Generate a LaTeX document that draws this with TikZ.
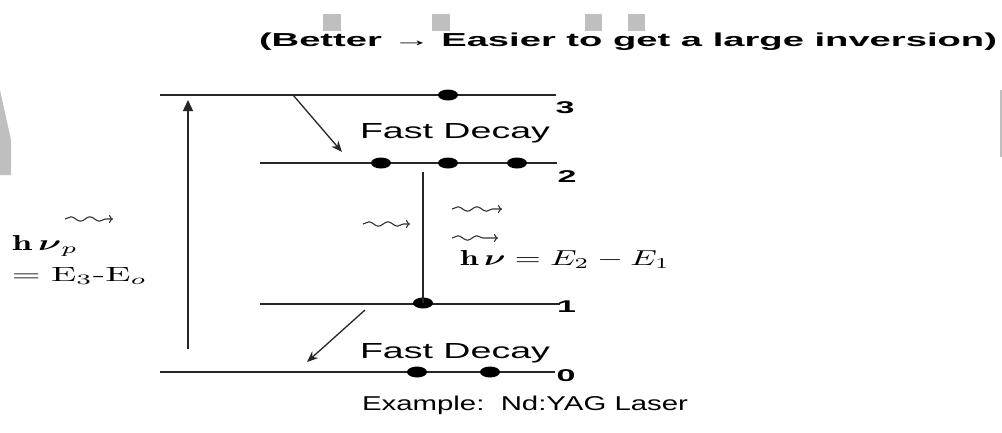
\documentclass[tikz,border=0pt]{standalone}
\usepackage{amsmath}
\usepackage{fontspec}
\newfontfamily\arial{Liberation Sans}
\usetikzlibrary{arrows.meta,decorations.pathmorphing,shapes.geometric}
\tikzset{
  level/.style={draw=black!85, line width=1.7pt},
  electron/.style={ellipse, fill=black, minimum width=20pt, minimum height=11pt, inner sep=0pt},
  decayarrow/.style={draw=black!85, line width=1.3pt, -{Stealth[length=11pt,width=9pt]}},
  wavy/.style={draw=black!80, line width=1.1pt, decorate,
     decoration={snake, amplitude=2.2pt, segment length=19pt, post length=6pt},
     -{To[length=4pt,width=8pt]}},
  txt/.style={anchor=base west, inner sep=0pt, outer sep=0pt},
  artifact/.style={fill=black!25, draw=none}
}
\begin{document}
\begin{tikzpicture}[x=1pt,y=-1pt]
\useasboundingbox (0,0) rectangle (1002,432);
% faint slide artifacts
\fill[artifact] (323,14) rectangle (341,31);
\fill[artifact] (432,14) rectangle (450,31);
\fill[artifact] (585,14) rectangle (602,31);
\fill[artifact] (628,14) rectangle (645,31);
\fill[artifact] (0,90) -- (11,140) -- (11,175) -- (0,175) -- cycle;
\fill[artifact] (999.5,90) rectangle (1002,157);
% title
\node[txt] (title) at (259,46.5) {\resizebox{738pt}{13.6pt}{\arial\bfseries (Better → Easier to get a large inversion)}};
% level end points
\coordinate (l3a) at (160,95);  \coordinate (l3b) at (556,95);
\coordinate (l2a) at (260,163); \coordinate (l2b) at (557,163);
\coordinate (l1a) at (260,304); \coordinate (l1b) at (560,304);
\coordinate (l0a) at (160,372); \coordinate (l0b) at (555,372);
\draw[level] (l3a) -- (l3b);
\draw[level] (l2a) -- (l2b);
\draw[level] (l1a) -- (l1b);
\draw[level] (l0a) -- (l0b);
% level labels
\node[txt] (n3) at (555.5,113) {\scalebox{2}[1]{\fontsize{17pt}{17pt}\selectfont\arial\bfseries 3}};
\node[txt] (n2) at (557.5,182) {\scalebox{2}[1]{\fontsize{17pt}{17pt}\selectfont\arial\bfseries 2}};
\node[txt] (n1) at (557,312) {\scalebox{2}[1]{\fontsize{17pt}{17pt}\selectfont\arial\bfseries 1}};
\node[txt] (n0) at (556.5,381) {\scalebox{2}[1]{\fontsize{17pt}{17pt}\selectfont\arial\bfseries 0}};
% electrons
\node[electron] (d3) at (448,95) {};
\node[electron] (d2a) at (381,163) {};
\node[electron] (d2b) at (448,163) {};
\node[electron] (d2c) at (517,163) {};
\node[electron] (d1) at (423,303) {};
\node[electron] (d0a) at (417,372) {};
\node[electron] (d0b) at (490,372) {};
% pump arrow
\coordinate (pb) at (188,349);
\coordinate (pt) at (188,100);
\draw[draw=black!85, line width=1.4pt, -{Triangle[length=11pt,width=10pt]}] (pb) -- (pt);
% fast decays
\coordinate (f3s) at (293,95);  \coordinate (f2e) at (342,152);
\coordinate (f1s) at (365,310); \coordinate (f0e) at (307,362);
\draw[decayarrow] (f3s) -- (f2e);
\draw[decayarrow] (f1s) -- (f0e);
\node[txt] (fd1) at (360,138) {\resizebox{190pt}{15pt}{\arial Fast Decay}};
\node[txt] (fd2) at (360,358) {\resizebox{190pt}{15pt}{\arial Fast Decay}};
% laser transition
\coordinate (e2) at (423,172);
\draw[draw=black!85, line width=1.4pt] (e2) -- (d1.center);
% wavy photons
\coordinate (w1a) at (65,219);  \coordinate (w1b) at (113,219);
\coordinate (w2a) at (363,224); \coordinate (w2b) at (410,224);
\coordinate (w3a) at (452,209); \coordinate (w3b) at (502,209);
\coordinate (w4a) at (452,238); \coordinate (w4b) at (498,238);
\draw[wavy] (w1a) -- (w1b);
\draw[wavy] (w2a) -- (w2b);
\draw[wavy] (w3a) -- (w3b);
\draw[wavy] (w4a) -- (w4b);
% math labels
\node[txt] (hnup) at (12,250) {\resizebox{66pt}{15pt}{$\mathbf{h}\,\boldsymbol{\nu}_{p}$}};
\node[txt] (e30) at (12,281) {\resizebox{135pt}{14pt}{$=\mathrm{E}_3\text{-}\mathrm{E}_o$}};
\node[txt] (hnu) at (460,265) {\resizebox{210pt}{15pt}{$\mathbf{h}\,\boldsymbol{\nu} = E_2 - E_1$}};
% example
\node[txt] (ex) at (362,410) {\resizebox{326pt}{14.5pt}{\arial Example:\ \ Nd:YAG Laser}};
\end{tikzpicture}
\end{document}
